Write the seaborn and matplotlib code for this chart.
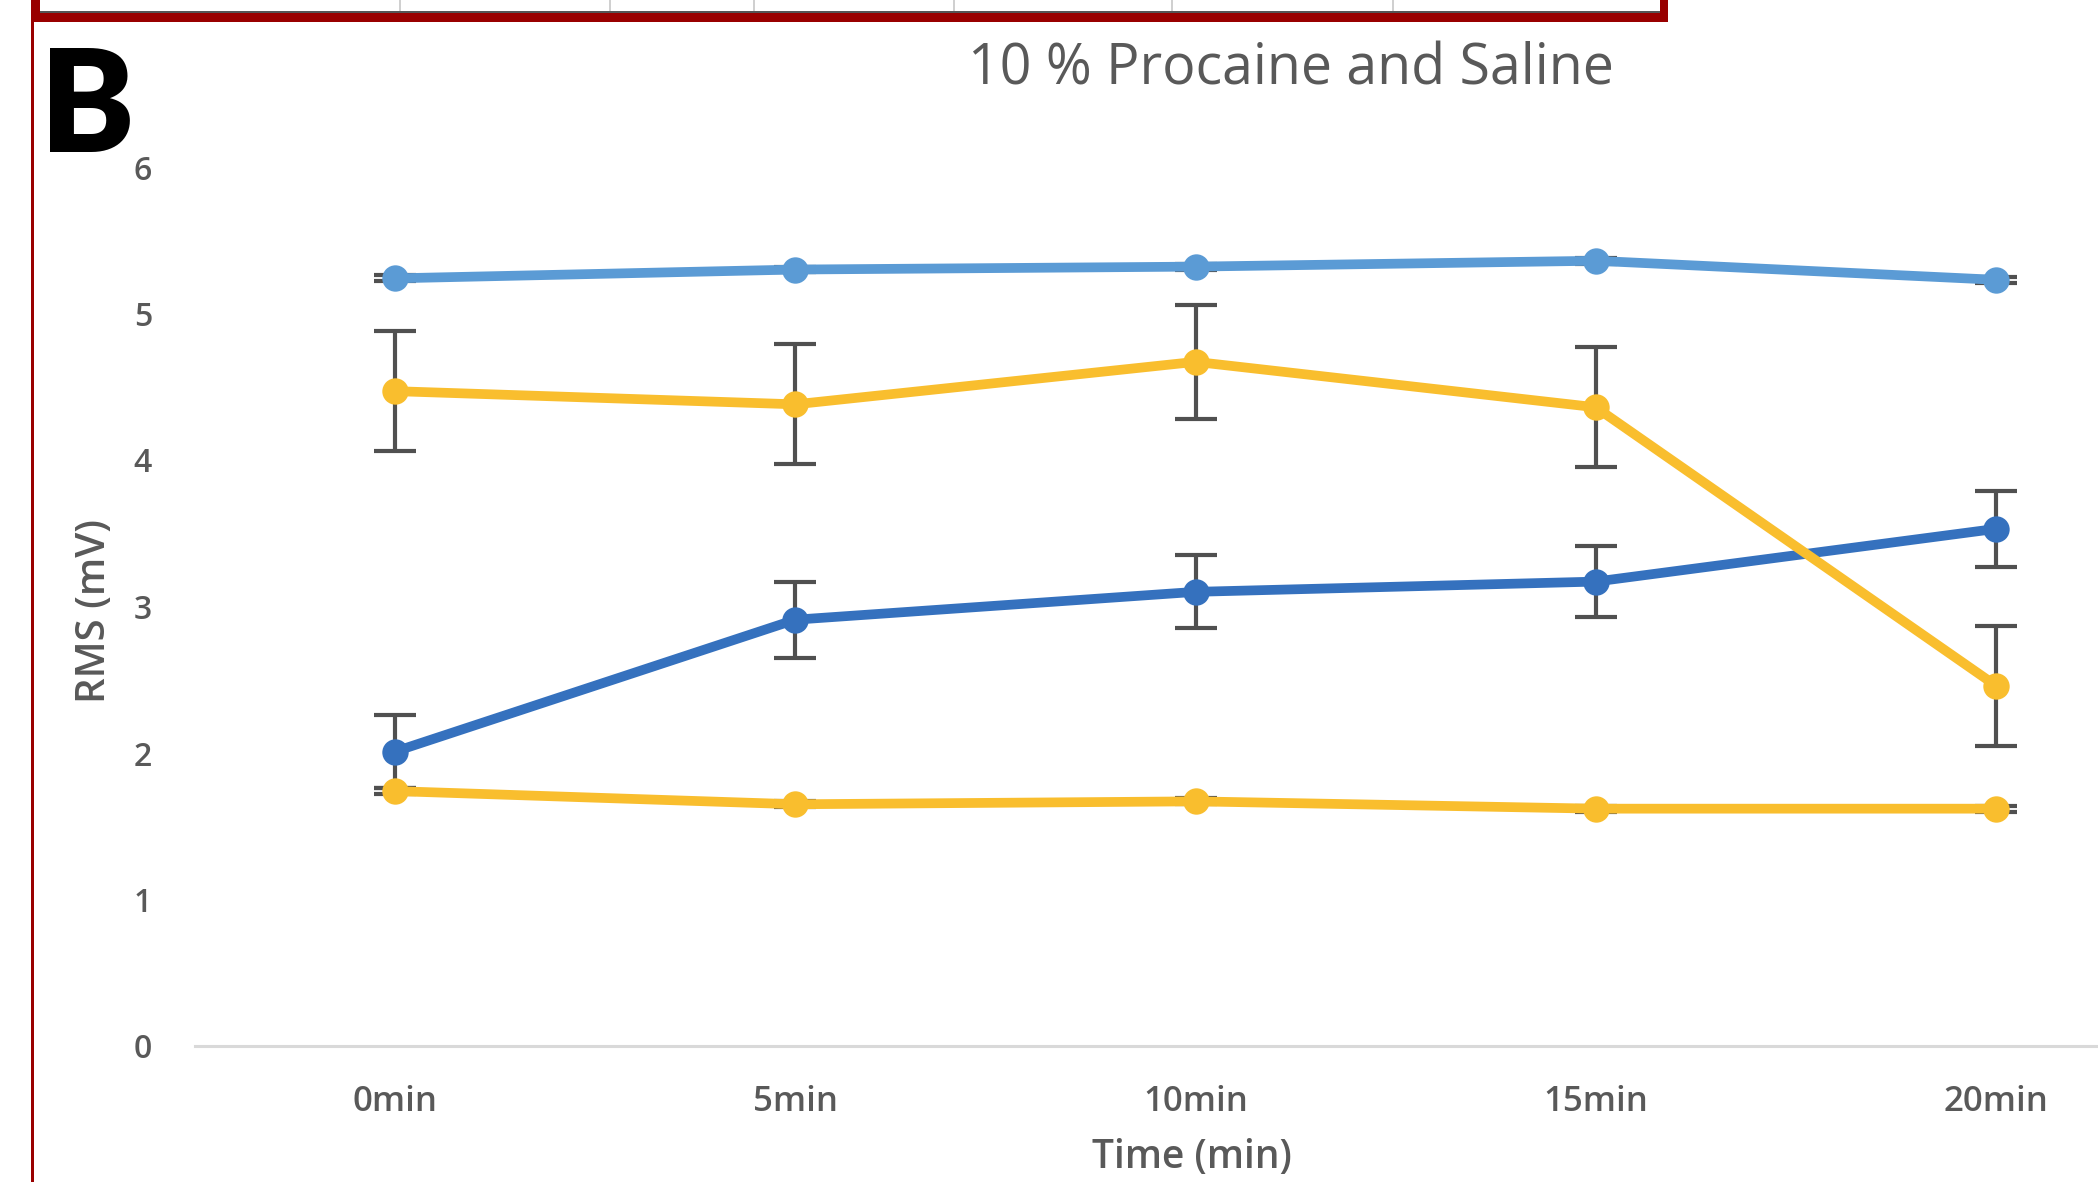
import matplotlib
matplotlib.use("Agg")
import matplotlib.pyplot as plt
import matplotlib.patches as mpatches
import numpy as np
import pandas as pd
import seaborn as sns

# ---- data -------------------------------------------------------------
time_labels = ["0min", "5min", "10min", "15min", "20min"]

saline_upper = [5.24, 5.30, 5.32, 5.36, 5.23]
saline_upper_err = [0.02, 0.02, 0.02, 0.02, 0.02]

procaine_upper = [4.47, 4.38, 4.67, 4.36, 2.46]
procaine_upper_err = [0.41, 0.41, 0.39, 0.41, 0.41]

procaine_lower = [2.01, 2.91, 3.10, 3.17, 3.53]
procaine_lower_err = [0.25, 0.26, 0.25, 0.245, 0.26]

saline_lower = [1.74, 1.65, 1.67, 1.62, 1.62]
saline_lower_err = [0.02, 0.02, 0.02, 0.02, 0.02]

series_names = ["light blue", "dark blue", "gold upper", "gold lower"]
series_values = [saline_upper, procaine_lower, procaine_upper, saline_lower]
series_errors = [saline_upper_err, procaine_lower_err, procaine_upper_err, saline_lower_err]
series_colors = ["#5B9BD5", "#3571BE", "#F9BE2E", "#F9BE2E"]

y_ticks = [0, 1, 2, 3, 4, 5, 6]

# ---- figure -----------------------------------------------------------
sns.set_theme(style="white")
plt.rcParams["font.family"] = ["Open Sans", "DejaVu Sans"]

W, H = 2098, 1182
fig = plt.figure(figsize=(W / 100, H / 100), dpi=100)
fig.patch.set_facecolor("white")

# plot area in pixel terms: x from 195 to 2196 (runs past the right edge), y 0 at 1046, 6 at 167
ax = fig.add_axes([195 / W, 1 - 1046 / H, 2001 / W, (1046 - 167) / H])
ax.set_facecolor("white")

positions = np.arange(len(time_labels))
rows = []
for name, vals in zip(series_names, series_values):
    for p, v in zip(positions, vals):
        rows.append({"pos": p, "rms": v, "series": name})
df = pd.DataFrame(rows)

text_gray = "#595959"

# error bars behind the lines
for vals, errs in zip(series_values, series_errors):
    ax.errorbar(positions, vals, yerr=errs, fmt="none", ecolor="#505050",
                elinewidth=3, capsize=15, capthick=3, zorder=1)

sns.lineplot(data=df, x="pos", y="rms", hue="series", hue_order=series_names,
             palette=dict(zip(series_names, series_colors)), marker="o",
             markersize=19, markeredgewidth=0, linewidth=7, legend=False,
             errorbar=None, sort=False, ax=ax, zorder=2)

ax.set_xlim(-0.5, 4.5)
ax.set_ylim(0, 6)
ax.set_xticks(positions)
ax.set_xticklabels(time_labels, fontweight="semibold")
ax.set_yticks(y_ticks)
ax.set_yticklabels([str(t) for t in y_ticks], fontweight="semibold")
ax.tick_params(axis="x", length=0, pad=28, labelsize=25, labelcolor=text_gray)
ax.tick_params(axis="y", length=0, pad=31, labelsize=23, labelcolor=text_gray)

for side in ["top", "right", "left"]:
    ax.spines[side].set_visible(False)
ax.spines["bottom"].set_color("#D9D9D9")
ax.spines["bottom"].set_linewidth(2.2)

ax.set_xlabel("Time (min)", fontsize=28, color=text_gray, va="baseline",
              fontweight="semibold")
ax.xaxis.set_label_coords(0.498, (1046 - 1168) / 879)
ax.set_ylabel("RMS (mV)", fontsize=29, color=text_gray, va="center",
              fontweight="semibold")
ax.yaxis.set_label_coords(-0.05, 0.495)

fig.text(1291 / W, 1 - 70 / H, "10 % Procaine and Saline", fontsize=40,
         color=text_gray, ha="center", va="center")

# panel letter
fig.text(40 / W, 1 - 152 / H, "B", fontsize=102, fontweight="heavy",
         family=["Lato", "DejaVu Sans"], color="black", ha="left", va="baseline")

# frame from the panel above: red border with white strip and light cell lines
red = "#990000"
fig.patches.append(mpatches.Rectangle((31 / W, 1 - 22 / H), (1668 - 31) / W, 22 / H,
                                      transform=fig.transFigure, facecolor=red,
                                      edgecolor="none", zorder=5))
fig.patches.append(mpatches.Rectangle((40 / W, 1 - 11 / H), (1660 - 40) / W, 11 / H,
                                      transform=fig.transFigure, facecolor="white",
                                      edgecolor="none", zorder=6))
fig.patches.append(mpatches.Rectangle((40 / W, 1 - 13 / H), (1660 - 40) / W, 2 / H,
                                      transform=fig.transFigure, facecolor="#555555",
                                      edgecolor="none", zorder=6))
for cx in [399, 609, 753, 953, 1171, 1392]:
    fig.patches.append(mpatches.Rectangle((cx / W, 1 - 11 / H), 1.5 / W, 11 / H,
                                          transform=fig.transFigure, facecolor="#D0D0D0",
                                          edgecolor="none", zorder=7))
fig.patches.append(mpatches.Rectangle((31 / W, 0), 3 / W, 1, transform=fig.transFigure,
                                      facecolor=red, edgecolor="none", zorder=5))

fig.savefig("out.png", dpi=100, facecolor="white")
